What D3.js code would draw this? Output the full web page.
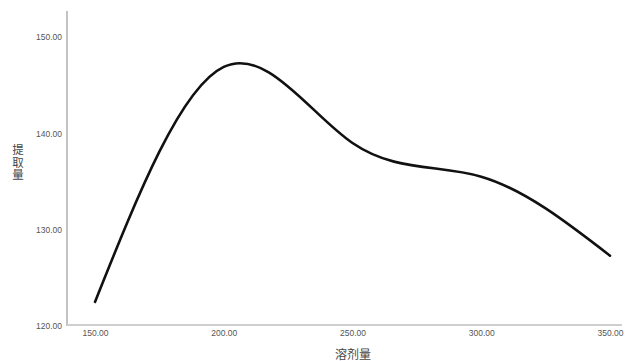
<!DOCTYPE html>
<html>
<head>
<meta charset="utf-8">
<script src="https://cdn.jsdelivr.net/npm/d3@7/dist/d3.min.js"></script>
<style>
  html, body { margin: 0; padding: 0; background: #fff; }
  svg { display: block; }
</style>
</head>
<body>
<svg id="chart" width="632" height="361"></svg>
<script>
// Solvent amount (x) and extraction yield (y)
const solvent = [150, 200, 250, 300, 350];
const yieldValues = [122.5, 146.9, 139.0, 135.5, 127.3];
const xTicks = [150, 200, 250, 300, 350];
const yTicks = [120, 130, 140, 150];
const xTitle = "溶剂量";
const yTitle = "提取量";

const svg = d3.select("#chart");

const x = d3.scaleLinear().domain([150, 350]).range([95, 610]);
const y = d3.scaleLinear().domain([120, 150]).range([326, 37]);

const plotLeft = 67, plotRight = 622, plotTop = 11, plotBottom = 325;

// axis lines
svg.append("line")
  .attr("x1", plotLeft).attr("x2", plotLeft)
  .attr("y1", plotTop).attr("y2", plotBottom + 1)
  .attr("stroke", "#9a9a9a").attr("stroke-width", 1.2);
svg.append("line")
  .attr("x1", plotLeft).attr("x2", plotRight)
  .attr("y1", plotBottom).attr("y2", plotBottom)
  .attr("stroke", "#cfcfcf").attr("stroke-width", 2);

// tick labels through d3 axes (no tick marks or domain path)
const yAxis = d3.axisLeft(y).tickValues(yTicks).tickFormat(d3.format(".2f"))
  .tickSize(0).tickPadding(0);
const gy = svg.append("g").attr("transform", `translate(${plotLeft - 5},0)`).call(yAxis);
gy.select(".domain").remove();
gy.selectAll("text")
  .attr("font-family", "Liberation Sans, Arial, sans-serif")
  .attr("font-size", 8.5).attr("fill", "#555");

const xAxis = d3.axisBottom(x).tickValues(xTicks).tickFormat(d3.format(".2f"))
  .tickSize(0).tickPadding(0);
const gx = svg.append("g").attr("transform", `translate(0,${plotBottom + 5})`).call(xAxis);
gx.select(".domain").remove();
gx.selectAll("text")
  .attr("font-family", "Liberation Sans, Arial, sans-serif")
  .attr("font-size", 8.5).attr("fill", "#555");

// axis titles
svg.append("text")
  .attr("x", 353).attr("y", 359)
  .attr("text-anchor", "middle")
  .attr("font-family", "Noto Sans CJK SC, sans-serif")
  .attr("font-size", 12).attr("fill", "#444")
  .text(xTitle);

// vertical title with upright characters
svg.append("text")
  .attr("x", 18).attr("y", 163)
  .attr("text-anchor", "middle")
  .style("writing-mode", "vertical-rl")
  .style("text-orientation", "upright")
  .attr("font-family", "Noto Sans CJK SC, sans-serif")
  .attr("font-size", 11.5).attr("fill", "#444")
  .attr("letter-spacing", 1)
  .text(yTitle);

// interpolation line
const line = d3.line()
  .x((d, i) => x(solvent[i]))
  .y(d => y(d))
  .curve(d3.curveNatural);

svg.append("path")
  .datum(yieldValues)
  .attr("d", line)
  .attr("fill", "none")
  .attr("stroke", "#111")
  .attr("stroke-width", 2.6)
  .attr("stroke-linecap", "round");
</script>
</body>
</html>
